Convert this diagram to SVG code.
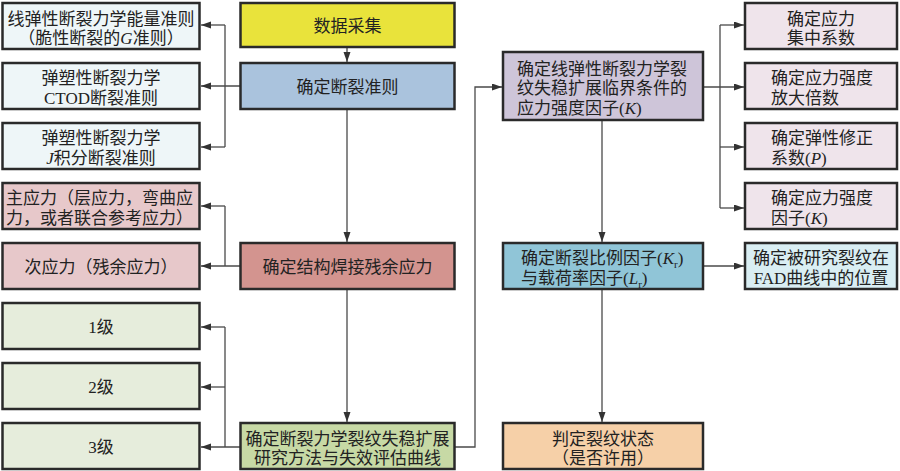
<svg xmlns="http://www.w3.org/2000/svg" width="900" height="471" viewBox="0 0 900 471">
<defs>
<marker id="ah" markerUnits="userSpaceOnUse" markerWidth="11" markerHeight="8" refX="10" refY="3.5" orient="auto">
<path d="M0,0 L10,3.5 L0,7 z" fill="#333"/>
</marker>
<style>
rect.b{stroke:#2a2a2a;stroke-width:2.5}
text{font-family:"Liberation Serif","Noto Sans CJK SC",serif;font-size:17px;fill:#222}
.c{text-anchor:middle}
.i{font-style:italic}
.s{font-size:11px}
#connectors path,#connectors line{fill:none;stroke:#4a4a4a;stroke-width:1.3}
.a{marker-end:url(#ah)}
</style>
</defs>
<rect width="900" height="471" fill="#ffffff"/>

<g id="connectors">
<line class="a" x1="347" y1="47" x2="347" y2="62"/>
<line class="a" x1="347" y1="109" x2="347" y2="242"/>
<line class="a" x1="347" y1="289" x2="347" y2="422"/>
<line class="a" x1="240" y1="86" x2="201" y2="86"/>
<path d="M225,147 L225,25"/>
<line class="a" x1="225" y1="25" x2="201" y2="25"/>
<line class="a" x1="225" y1="147" x2="201" y2="147"/>
<line class="a" x1="240" y1="266" x2="201" y2="266"/>
<path d="M225,266 L225,206"/>
<line class="a" x1="225" y1="206" x2="201" y2="206"/>
<line class="a" x1="240" y1="447" x2="201" y2="447"/>
<path d="M225,447 L225,327"/>
<line class="a" x1="225" y1="327" x2="201" y2="327"/>
<line class="a" x1="225" y1="387" x2="201" y2="387"/>
<path class="a" d="M455,447 L475,447 L475,87 L502,87"/>
<line class="a" x1="703" y1="87" x2="744" y2="87"/>
<path d="M720,25 L720,208"/>
<line class="a" x1="720" y1="25" x2="744" y2="25"/>
<line class="a" x1="720" y1="147" x2="744" y2="147"/>
<line class="a" x1="720" y1="208" x2="744" y2="208"/>
<line class="a" x1="602" y1="120" x2="602" y2="242"/>
<line class="a" x1="703" y1="266" x2="744" y2="266"/>
<line class="a" x1="602" y1="289" x2="602" y2="422"/>
</g>

<g id="n-lefm">
<rect class="b" x="2.5" y="3" width="197" height="46" fill="#eef6f8"/>
<text class="c" x="101" y="24.5">线弹性断裂力学能量准则</text>
<text class="c" x="101" y="43.5">（脆性断裂的<tspan class="i">G</tspan>准则）</text>
</g>
<g id="n-ctod">
<rect class="b" x="2.5" y="63" width="197" height="46" fill="#eef6f8"/>
<text class="c" x="101" y="84">弹塑性断裂力学</text>
<text class="c" x="101" y="103.5">CTOD断裂准则</text>
</g>
<g id="n-j">
<rect class="b" x="2.5" y="123" width="197" height="46" fill="#eef6f8"/>
<text class="c" x="101" y="144">弹塑性断裂力学</text>
<text class="c" x="101" y="163.5"><tspan class="i">J</tspan>积分断裂准则</text>
</g>
<g id="n-primary">
<rect class="b" x="2.5" y="183" width="197" height="46" fill="#e7c8ca"/>
<text x="6" y="204">主应力（层应力，弯曲应</text>
<text x="6" y="223.5">力，或者联合参考应力）</text>
</g>
<g id="n-secondary">
<rect class="b" x="2.5" y="243" width="197" height="46" fill="#e7c8ca"/>
<text class="c" x="101" y="272.5">次应力（残余应力）</text>
</g>
<g id="n-l1">
<rect class="b" x="2.5" y="303" width="197" height="46" fill="#e6eddc"/>
<text class="c" x="101" y="332.5">1级</text>
</g>
<g id="n-l2">
<rect class="b" x="2.5" y="363" width="197" height="46" fill="#e6eddc"/>
<text class="c" x="101" y="392.5">2级</text>
</g>
<g id="n-l3">
<rect class="b" x="2.5" y="423" width="197" height="46" fill="#e6eddc"/>
<text class="c" x="101" y="452.5">3级</text>
</g>

<g id="n-data">
<rect class="b" x="240.5" y="3" width="214" height="44" fill="#e9e33b"/>
<text class="c" x="347.5" y="31.5">数据采集</text>
</g>
<g id="n-criterion">
<rect class="b" x="240.5" y="63" width="214" height="46" fill="#aac3dd"/>
<text class="c" x="347.5" y="92.5">确定断裂准则</text>
</g>
<g id="n-residual">
<rect class="b" x="240.5" y="243" width="214" height="46" fill="#d3948f"/>
<text class="c" x="347.5" y="272.5">确定结构焊接残余应力</text>
</g>
<g id="n-method">
<rect class="b" x="240.5" y="423" width="214" height="46" fill="#c7d9a5"/>
<text class="c" x="347.5" y="444.5">确定断裂力学裂纹失稳扩展</text>
<text class="c" x="347.5" y="464">研究方法与失效评估曲线</text>
</g>

<g id="n-k">
<rect class="b" x="503" y="52" width="200" height="68" fill="#cec5d9"/>
<text x="517" y="74.5">确定线弹性断裂力学裂</text>
<text x="517" y="94">纹失稳扩展临界条件的</text>
<text x="517" y="113.5">应力强度因子(<tspan class="i">K</tspan>)</text>
</g>
<g id="n-kr">
<rect class="b" x="503" y="243" width="200" height="46" fill="#90c5d7"/>
<text x="521" y="264">确定断裂比例因子(<tspan class="i">K</tspan><tspan class="s" dy="4">r</tspan><tspan dy="-4">)</tspan></text>
<text x="521" y="283.5">与载荷率因子(<tspan class="i">L</tspan><tspan class="s" dy="4">r</tspan><tspan dy="-4">)</tspan></text>
</g>
<g id="n-judge">
<rect class="b" x="503" y="423" width="200" height="46" fill="#f6d0a8"/>
<text class="c" x="603" y="444.5">判定裂纹状态</text>
<text class="c" x="603" y="464">（是否许用）</text>
</g>

<g id="n-scf">
<rect class="b" x="745" y="3" width="152" height="46" fill="#efe4eb"/>
<text class="c" x="821" y="24.5">确定应力</text>
<text class="c" x="821" y="44">集中系数</text>
</g>
<g id="n-mag">
<rect class="b" x="745" y="63" width="152" height="46" fill="#efe4eb"/>
<text x="771" y="84">确定应力强度</text>
<text x="771" y="103.5">放大倍数</text>
</g>
<g id="n-p">
<rect class="b" x="745" y="123" width="152" height="46" fill="#efe4eb"/>
<text x="771" y="144">确定弹性修正</text>
<text x="771" y="163.5">系数(<tspan class="i">P</tspan>)</text>
</g>
<g id="n-sif">
<rect class="b" x="745" y="183" width="152" height="46" fill="#efe4eb"/>
<text x="771" y="204">确定应力强度</text>
<text x="771" y="223.5">因子(<tspan class="i">K</tspan>)</text>
</g>
<g id="n-fad">
<rect class="b" x="745" y="243" width="152" height="46" fill="#d9eef3"/>
<text class="c" x="821" y="264">确定被研究裂纹在</text>
<text class="c" x="821" y="283.5">FAD曲线中的位置</text>
</g>
</svg>
